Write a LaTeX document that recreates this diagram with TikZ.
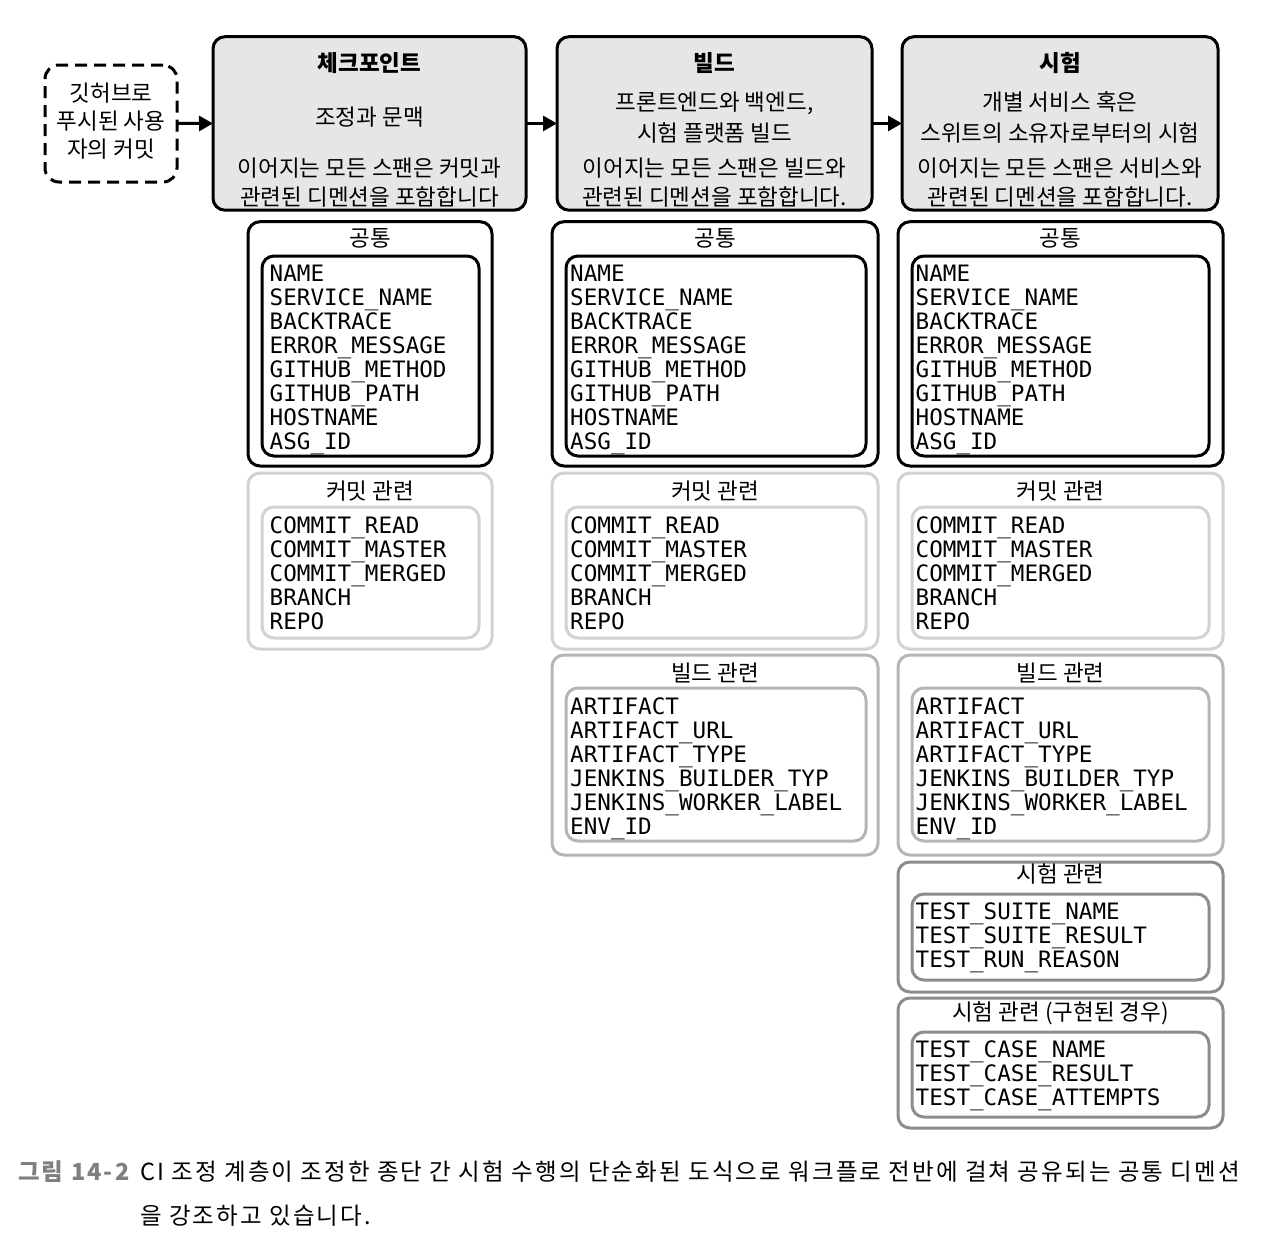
\documentclass[tikz,border=0pt]{standalone}
\usepackage{fontspec}
\setmainfont{Noto Sans CJK KR}
\newfontfamily\krcap{Noto Sans CJK KR}[LetterSpace=9]
\newfontfamily\monof{DejaVu Sans Mono}
\usetikzlibrary{arrows.meta}
\definecolor{hdrfill}{HTML}{E6E6E6}
\definecolor{cmtgray}{HTML}{D2D2D2}
\definecolor{bldgray}{HTML}{B5B5B5}
\definecolor{tstgray}{HTML}{8C8C8C}
\definecolor{capgray}{HTML}{7F7F7F}
\tikzset{
  box/.style={draw, line width=3pt, rounded corners=12pt, anchor=north west, inner sep=0pt, outer sep=0pt},
  hdr/.style={box, fill=hdrfill},
  dashbox/.style={box, dash pattern=on 12pt off 7pt, rounded corners=14pt},
  cmtbox/.style={box, draw=cmtgray},
  bldbox/.style={box, draw=bldgray},
  tstbox/.style={box, draw=tstgray},
  txt/.style={font=\fontsize{22.5}{29}\selectfont, inner sep=0pt, align=center},
  txtb/.style={txt, font=\bfseries\fontsize{22.5}{29}\selectfont},
  mono/.style={font=\monof\fontsize{22.6}{24}\selectfont, inner sep=0pt, anchor=base west},
  arr/.style={line width=3pt, -{Triangle[length=14pt,width=15pt]}},
}
\newcommand\fieldlist[4]{%
  \foreach \t [count=\i from 0] in {#4} {\node[mono] (#1\i) at (#2,#3+24*\i) {\t};}}
\begin{document}
\begin{tikzpicture}[x=1pt,y=-1pt]
\path[use as bounding box, fill=white] (0,0) rectangle (1280,1256);

% start box and headers
\node[dashbox, minimum width=132pt, minimum height=117pt] (start) at (45,65) {};
\node[txt, font=\fontsize{22.5}{28}\selectfont] (startt) at (111,121.5) {깃허브로\\푸시된 사용\\자의 커밋};

\node[hdr, minimum width=313pt, minimum height=173.5pt] (h1) at (213,36.7) {};
\node[hdr, minimum width=315pt, minimum height=173.5pt] (h2) at (557,36.7) {};
\node[hdr, minimum width=316pt, minimum height=173.5pt] (h3) at (902,36.7) {};

\draw[arr] (start.east) -- (h1.west);
\draw[arr] (h1.east) -- (h2.west);
\draw[arr] (h2.east) -- (h3.west);

\node[txtb] (h1t) at (369.5,63.5) {체크포인트};
\node[txt] (h1a) at (369.5,117.5) {조정과 문맥};
\node[txt] (h1b) at (369.5,182.5) {이어지는 모든 스팬은 커밋과\\관련된 디멘션을 포함합니다};

\node[txtb] (h2t) at (714.5,63.5) {빌드};
\node[txt, font=\fontsize{22.5}{31}\selectfont] (h2a) at (714.5,117.5) {프론트엔드와 백엔드,\\시험 플랫폼 빌드};
\node[txt] (h2b) at (714.5,182.5) {이어지는 모든 스팬은 빌드와\\관련된 디멘션을 포함합니다.};

\node[txtb] (h3t) at (1060,63.5) {시험};
\node[txt, font=\fontsize{22.5}{31}\selectfont] (h3a) at (1060,117.5) {개별 서비스 혹은\\스위트의 소유자로부터의 시험};
\node[txt] (h3b) at (1060,182.5) {이어지는 모든 스팬은 서비스와\\관련된 디멘션을 포함합니다.};

% column 1
\node[box, minimum width=244pt, minimum height=244.3pt] (c1com) at (248,221.7) {};
\node[box, minimum width=217pt, minimum height=200pt] (c1comi) at (262,256) {};
\node[txt] (c1comt) at (370,238) {공통};
\fieldlist{c1a}{269.5}{281}{NAME,SERVICE\_NAME,BACKTRACE,ERROR\_MESSAGE,GITHUB\_METHOD,GITHUB\_PATH,HOSTNAME,ASG\_ID}

\node[cmtbox, minimum width=244pt, minimum height=176pt] (c1cmt) at (248,473) {};
\node[cmtbox, minimum width=217pt, minimum height=131pt] (c1cmti) at (262,507) {};
\node[txt] (c1cmtt) at (370,491) {커밋 관련};
\fieldlist{c1b}{269.5}{533}{COMMIT\_READ,COMMIT\_MASTER,COMMIT\_MERGED,BRANCH,REPO}

% column 2
\node[box, minimum width=326pt, minimum height=244.3pt] (c2com) at (552,221.7) {};
\node[box, minimum width=300pt, minimum height=200pt] (c2comi) at (566,256) {};
\node[txt] (c2comt) at (715,238) {공통};
\fieldlist{c2a}{570}{281}{NAME,SERVICE\_NAME,BACKTRACE,ERROR\_MESSAGE,GITHUB\_METHOD,GITHUB\_PATH,HOSTNAME,ASG\_ID}

\node[cmtbox, minimum width=326pt, minimum height=176pt] (c2cmt) at (552,473) {};
\node[cmtbox, minimum width=300pt, minimum height=131pt] (c2cmti) at (566,507) {};
\node[txt] (c2cmtt) at (715,491) {커밋 관련};
\fieldlist{c2b}{570}{533}{COMMIT\_READ,COMMIT\_MASTER,COMMIT\_MERGED,BRANCH,REPO}

\node[bldbox, minimum width=326pt, minimum height=200pt] (c2bld) at (552,655) {};
\node[bldbox, minimum width=300pt, minimum height=153pt] (c2bldi) at (566,688) {};
\node[txt] (c2bldt) at (715,672.5) {빌드 관련};
\fieldlist{c2c}{570}{714}{ARTIFACT,ARTIFACT\_URL,ARTIFACT\_TYPE,JENKINS\_BUILDER\_TYP,JENKINS\_WORKER\_LABEL,ENV\_ID}

% column 3
\node[box, minimum width=325pt, minimum height=244.3pt] (c3com) at (898,221.7) {};
\node[box, minimum width=297pt, minimum height=200pt] (c3comi) at (912,256) {};
\node[txt] (c3comt) at (1060.5,238) {공통};
\fieldlist{c3a}{915.5}{281}{NAME,SERVICE\_NAME,BACKTRACE,ERROR\_MESSAGE,GITHUB\_METHOD,GITHUB\_PATH,HOSTNAME,ASG\_ID}

\node[cmtbox, minimum width=325pt, minimum height=176pt] (c3cmt) at (898,473) {};
\node[cmtbox, minimum width=297pt, minimum height=131pt] (c3cmti) at (912,507) {};
\node[txt] (c3cmtt) at (1060.5,491) {커밋 관련};
\fieldlist{c3b}{915.5}{533}{COMMIT\_READ,COMMIT\_MASTER,COMMIT\_MERGED,BRANCH,REPO}

\node[bldbox, minimum width=325pt, minimum height=200pt] (c3bld) at (898,655) {};
\node[bldbox, minimum width=297pt, minimum height=153pt] (c3bldi) at (912,688) {};
\node[txt] (c3bldt) at (1060.5,672.5) {빌드 관련};
\fieldlist{c3c}{915.5}{714}{ARTIFACT,ARTIFACT\_URL,ARTIFACT\_TYPE,JENKINS\_BUILDER\_TYP,JENKINS\_WORKER\_LABEL,ENV\_ID}

\node[tstbox, minimum width=325pt, minimum height=130pt] (c3tst) at (898,862) {};
\node[tstbox, minimum width=297pt, minimum height=86pt] (c3tsti) at (912,894) {};
\node[txt] (c3tstt) at (1060.5,874) {시험 관련};
\fieldlist{c3d}{915.5}{919}{TEST\_SUITE\_NAME,TEST\_SUITE\_RESULT,TEST\_RUN\_REASON}

\node[tstbox, minimum width=325pt, minimum height=130pt] (c3cas) at (898,998) {};
\node[tstbox, minimum width=297pt, minimum height=85pt] (c3casi) at (912,1032) {};
\node[txt] (c3cast) at (1060.5,1013) {시험 관련 (구현된 경우)};
\fieldlist{c3e}{915.5}{1057}{TEST\_CASE\_NAME,TEST\_CASE\_RESULT,TEST\_CASE\_ATTEMPTS}

% caption
\node[inner sep=0pt, anchor=west, text=capgray, font=\krcap\bfseries\fontsize{23.5}{44}\selectfont] (caplabel) at (18,1172) {그림 14-2};
\node[inner sep=0pt, anchor=west, align=left, font=\krcap\fontsize{23.5}{44}\selectfont] (capbody) at (140,1194) {CI 조정 계층이 조정한 종단 간 시험 수행의 단순화된 도식으로 워크플로 전반에 걸쳐 공유되는 공통 디멘션\\을 강조하고 있습니다.};
\end{tikzpicture}
\end{document}
